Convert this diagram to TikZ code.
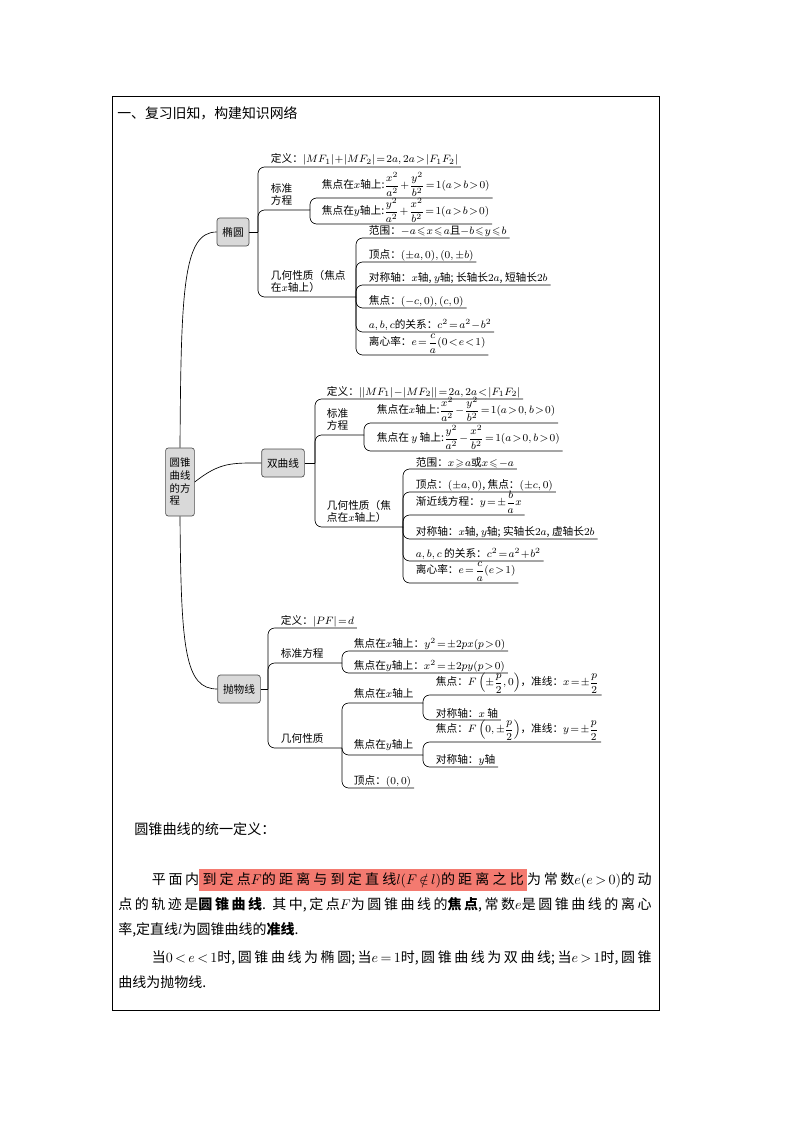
\RequirePackage{fix-cm}
\documentclass[tikz,border=0pt]{standalone}
\usepackage{amsmath,amssymb}
\usepackage[no-math]{fontspec}
\setmainfont{Noto Sans CJK SC}
\usetikzlibrary{calc}
\definecolor{boxgray}{HTML}{D9D9D9}
\definecolor{hlred}{HTML}{F47A70}
\newcommand{\mapfont}{\fontsize{8}{9.5}\selectfont\thickmuskip=2mu\medmuskip=1mu}
\newcommand{\parafont}{\fontsize{10.5}{18.75}\selectfont\thickmuskip=3mu\medmuskip=2mu}
\newcommand{\halfp}{\dfrac{p}{2}}
\setlength{\fboxsep}{2.5pt}
\XeTeXlinebreaklocale "zh"
\XeTeXlinebreakskip=0pt plus 4pt

\begin{document}
\begin{tikzpicture}[x=0.75pt, y=-0.75pt,
    topic/.style={draw=black!70, fill=boxgray, rounded corners=2pt, font=\mapfont, minimum height=21pt, inner xsep=4pt, line width=0.5pt},
    subnode/.style={anchor=south west, inner xsep=2pt, inner ysep=3pt, align=left, font=\mapfont},
    leaf/.style={anchor=south west, inner xsep=2pt, inner ysep=0.8pt, font=\mapfont},
    branch/.style={rounded corners=5pt, line width=0.5pt},
  ]
    \useasboundingbox (0,0) rectangle (794,1123);
    \draw[line width=0.7pt] (112,96) rectangle (659,1010);
    \node[anchor=west, inner sep=0pt, font=\fontsize{10.4}{12}\selectfont] (title) at (117,113) {一、复习旧知，构建知识网络};

    % main topics
    \node[topic, align=left, font=\fontsize{7.8}{9.5}\selectfont, minimum height=51pt, inner xsep=3pt] (cen) at (180,482) {圆锥\\曲线\\的方\\程};
    \node[topic] (ell) at (233,232) {椭圆};
    \node[topic] (hyp) at (283,463) {双曲线};
    \node[topic] (par) at (239,689) {抛物线};

    \draw[branch] (cen.north) .. controls (181,290) and (183,232) .. (ell.west);
    \draw[branch] (cen.east) .. controls (220,462) and (232,463) .. (hyp.west);
    \draw[branch] (cen.south) .. controls (181,650) and (185,689) .. (par.west);

    % ellipse
    \coordinate (jE) at (258,232);
    \coordinate (eStdJ) at (310,210);
    \coordinate (eGeoJ) at (356,297);
    \node[leaf] (eDef) at (268,167) {定义：$|MF_1|+|MF_2|=2a,2a>|F_1F_2|$};
    \node[subnode] (eStd) at (268,210) {标准\\方程};
    \node[leaf] (eStdX) at (319,198) {焦点在$x$轴上:$\dfrac{x^2}{a^2}+\dfrac{y^2}{b^2}=1(a>b>0)$};
    \node[leaf] (eStdY) at (319,224) {焦点在$y$轴上:$\dfrac{y^2}{a^2}+\dfrac{x^2}{b^2}=1(a>b>0)$};
    \node[subnode] (eGeo) at (268,297) {几何性质（焦点\\在$x$轴上）};
    \node[leaf] (eRng) at (366,238) {范围：$-a\leqslant x\leqslant a$且$-b\leqslant y\leqslant b$};
    \node[leaf] (eVtx) at (366,262) {顶点：$(\pm a,0),(0,\pm b)$};
    \node[leaf] (eAxs) at (366,285) {对称轴：$x$轴, $y$轴; 长轴长$2a$, 短轴长$2b$};
    \node[leaf] (eFoc) at (366,308) {焦点：$(-c,0),(c,0)$};
    \node[leaf] (eRel) at (366,332) {$a,b,c$的关系：$c^2=a^2-b^2$};
    \node[leaf] (eEcc) at (366,355) {离心率：$e=\dfrac{c}{a}(0<e<1)$};

    \draw[branch] (ell.east) -- (jE);
    \draw[branch] (jE) |- (eDef.south east);
    \draw[branch] (jE) |- (eStdJ);
    \draw[branch] (jE) |- (eGeoJ);
    \foreach \n in {eStdX,eStdY} \draw[branch] (eStdJ) |- (\n.south east);
    \foreach \n in {eRng,eVtx,eAxs,eFoc,eRel,eEcc} \draw[branch] (eGeoJ) |- (\n.south east);

    % hyperbola
    \coordinate (jH) at (315,463);
    \coordinate (hStdJ) at (364,435);
    \coordinate (hGeoJ) at (403,527);
    \node[leaf] (hDef) at (324,399) {定义：$||MF_1|-|MF_2||=2a,2a<|F_1F_2|$};
    \node[subnode] (hStd) at (324,435) {标准\\方程};
    \node[leaf] (hStdX) at (374,423) {焦点在$x$轴上:$\dfrac{x^2}{a^2}-\dfrac{y^2}{b^2}=1(a>0,b>0)$};
    \node[leaf] (hStdY) at (374,451) {焦点在 $y$ 轴上:$\dfrac{y^2}{a^2}-\dfrac{x^2}{b^2}=1(a>0,b>0)$};
    \node[subnode] (hGeo) at (324,527) {几何性质（焦\\点在$x$轴上）};
    \node[leaf] (hRng) at (413,469) {范围：$x\geqslant a$或$x\leqslant -a$};
    \node[leaf] (hVtx) at (413,492) {顶点：$(\pm a,0)$, 焦点：$(\pm c,0)$};
    \node[leaf] (hAsy) at (413,515) {渐近线方程：$y=\pm\dfrac{b}{a}x$};
    \node[leaf] (hAxs) at (413,539) {对称轴：$x$轴, $y$轴; 实轴长$2a$, 虚轴长$2b$};
    \node[leaf] (hRel) at (413,561) {$a,b,c$ 的关系：$c^2=a^2+b^2$};
    \node[leaf] (hEcc) at (413,583) {离心率：$e=\dfrac{c}{a}(e>1)$};

    \draw[branch] (hyp.east) -- (jH);
    \draw[branch] (jH) |- (hDef.south east);
    \draw[branch] (jH) |- (hStdJ);
    \draw[branch] (jH) |- (hGeoJ);
    \foreach \n in {hStdX,hStdY} \draw[branch] (hStdJ) |- (\n.south east);
    \foreach \n in {hRng,hVtx,hAsy,hAxs,hRel,hEcc} \draw[branch] (hGeoJ) |- (\n.south east);

    % parabola
    \coordinate (jP) at (268,689);
    \coordinate (pStdJ) at (342,663);
    \coordinate (pGeoJ) at (342,748);
    \coordinate (pGeoXJ) at (423,703);
    \coordinate (pGeoYJ) at (423,755);
    \node[leaf] (pDef) at (278,628) {定义：$|PF|=d$};
    \node[subnode] (pStd) at (278,663) {标准方程};
    \node[leaf] (pStdX) at (351,651) {焦点在$x$轴上：$y^2=\pm2px(p>0)$};
    \node[leaf] (pStdY) at (351,673) {焦点在$y$轴上：$x^2=\pm2py(p>0)$};
    \node[subnode] (pGeo) at (278,748) {几何性质};
    \node[subnode] (pGeoX) at (351,703) {焦点在$x$轴上};
    \node[subnode] (pGeoY) at (351,755) {焦点在$y$轴上};
    \node[leaf] (pVtx) at (351,788) {顶点：$(0,0)$};
    \node[leaf] (pXFoc) at (433,695) {焦点：$F\left(\pm\halfp,0\right)$，准线：$x=\pm\halfp$};
    \node[leaf] (pXAxs) at (433,720) {对称轴：$x$ 轴};
    \node[leaf] (pYFoc) at (433,742) {焦点：$F\left(0,\pm\halfp\right)$，准线：$y=\pm\halfp$};
    \node[leaf] (pYAxs) at (433,767) {对称轴：$y$轴};

    \draw[branch] (par.east) -- (jP);
    \draw[branch] (jP) |- (pDef.south east);
    \draw[branch] (jP) |- (pStdJ);
    \draw[branch] (jP) |- (pGeoJ);
    \foreach \n in {pStdX,pStdY} \draw[branch] (pStdJ) |- (\n.south east);
    \draw[branch] (pGeoJ) |- (pGeoXJ);
    \draw[branch] (pGeoJ) |- (pGeoYJ);
    \draw[branch] (pGeoJ) |- (pVtx.south east);
    \foreach \n in {pXFoc,pXAxs} \draw[branch] (pGeoXJ) |- (\n.south east);
    \foreach \n in {pYFoc,pYAxs} \draw[branch] (pGeoYJ) |- (\n.south east);

    % unified definition
    \node[anchor=west, inner sep=0pt, font=\fontsize{10.6}{12}\selectfont] (defhead) at (134,829) {圆锥曲线的统一定义：};
    \node[anchor=north west, text width=400pt, align=justify, inner sep=0pt, font=\parafont] (para1) at (118,869) {\hspace*{2.4em}平面内\colorbox{hlred}{\parbox[b]{241pt}{\parfillskip=0pt 到定点$F$的距离与到定直线$l(F\notin l)$的距离之比}}为常数$e(e>0)$的动\linebreak 点的轨迹是\textbf{圆锥曲线}. 其中,定点$F$为圆锥曲线的\textbf{焦点},常数$e$是圆锥曲线的离心\linebreak 率,定直线$l$为圆锥曲线的\textbf{准线}.};
    \node[anchor=north west, text width=400pt, align=justify, inner sep=0pt, font=\parafont] (para2) at (118,950) {\hspace*{2.4em}当$0<e<1$时,圆锥曲线为椭圆;当$e=1$时,圆锥曲线为双曲线;当$e>1$时,圆锥\linebreak 曲线为抛物线.};
\end{tikzpicture}
\end{document}
